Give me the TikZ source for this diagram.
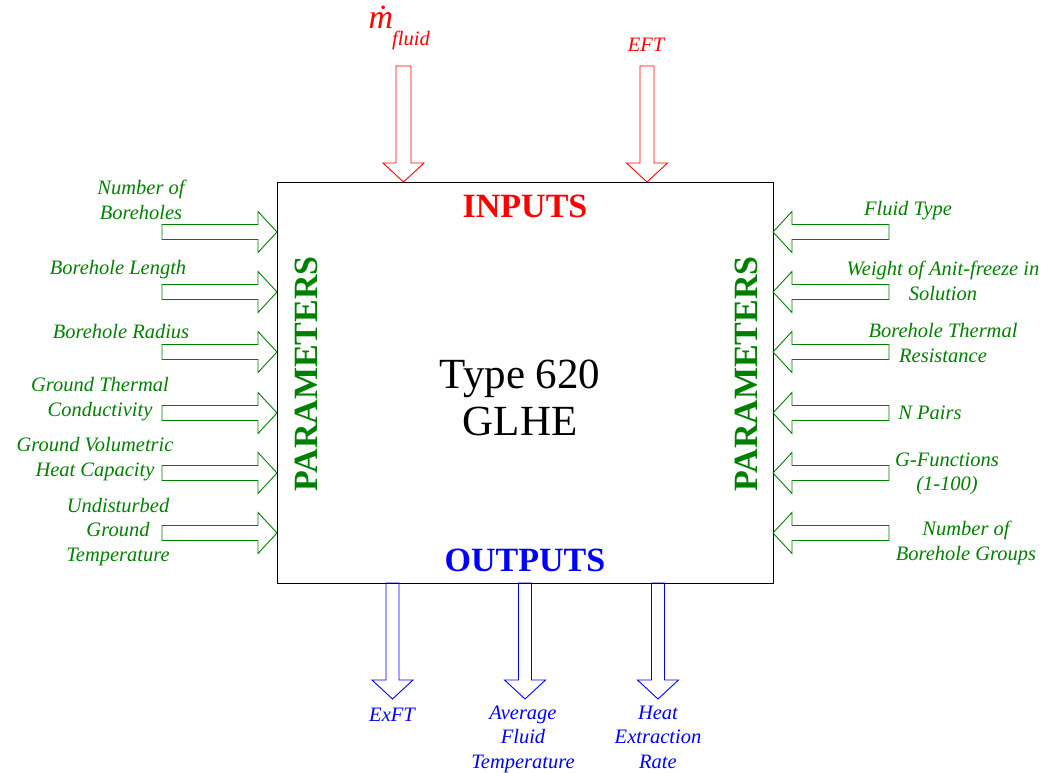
\documentclass[tikz,border=0pt]{standalone}
\usepackage{fontspec}
\setmainfont{Liberation Serif}[ItalicFont={Liberation Serif Italic},BoldFont={Liberation Serif Bold},BoldItalicFont={Liberation Serif Bold Italic}]
\definecolor{pgreen}{RGB}{0,128,0}
\definecolor{pred}{RGB}{255,0,0}
\definecolor{pblue}{RGB}{0,0,255}
\newcommand\rbarrow[4]{% tail x, neck x, tip x, y  (horizontal)
  \draw (#1,#4-7.5) -- (#2,#4-7.5) -- (#2,#4-20.5) -- (#3,#4) -- (#2,#4+20.5) -- (#2,#4+7.5) -- (#1,#4+7.5) -- cycle;}
\newcommand\vbarrow[5]{% tail y, neck y, tip y, x, shaft half
  \draw (#4-#5,#1) -- (#4-#5,#2) -- (#4-20.5,#2) -- (#4,#3) -- (#4+20.5,#2) -- (#4+#5,#2) -- (#4+#5,#1) -- cycle;}
\begin{document}
\begin{tikzpicture}[x=1pt,y=-1pt,
  lbl/.style={align=center,inner sep=0pt,font=\fontsize{20.5}{24.5}\selectfont\itshape},
  big/.style={inner sep=0pt,font=\fontsize{34}{38}\selectfont\bfseries},
  arr/.style={line width=0.9pt}]
\useasboundingbox (0,0) rectangle (1050,773);
% main box
\draw[line width=0.9pt] (277,182) rectangle (773,583);
\node[inner sep=0pt,align=center,font=\fontsize{43}{47}\selectfont] (title) at (520,398) {Type 620\\GLHE};
\node[big,text=pred] (inputs) at (525,206) {INPUTS};
\node[big,text=pblue] (outputs) at (525,560) {OUTPUTS};
\node[big,text=pgreen,rotate=90] (parL) at (306,374) {PARAMETERS};
\node[big,text=pgreen,rotate=90] (parR) at (746,374) {PARAMETERS};
% top inputs
\begin{scope}[pred,arr]
\vbarrow{66}{163}{182}{403.5}{7.5}
\vbarrow{66}{163}{182}{647}{7}
\end{scope}
\node[inner sep=0pt,text=pred,font=\fontsize{34}{36}\selectfont\itshape] (mdot) at (381,17) {\.{m}};
\node[lbl,text=pred] (fluid) at (411,40) {fluid};
\node[lbl,text=pred] (eft) at (646,45) {EFT};
% parameters
\begin{scope}[pgreen,arr]
\foreach \y in {232,292,352,413,473,533} {\rbarrow{162}{258}{277}{\y}}
\foreach \y in {232,292,352,413,473,533} {\rbarrow{889}{792}{773}{\y}}
\end{scope}
\begin{scope}[text=pgreen]
\node[lbl] (l1) at (141,200) {Number of\\Boreholes};
\node[lbl] (l2) at (118,270) {Borehole Length};
\node[lbl] (l3) at (121,332) {Borehole Radius};
\node[lbl] (l4) at (100,399) {Ground Thermal\\Conductivity};
\node[lbl] (l5) at (95,459) {Ground Volumetric\\Heat Capacity};
\node[lbl] (l6) at (118,532) {Undisturbed\\Ground\\Temperature};
\node[lbl] (r1) at (908,211) {Fluid Type};
\node[lbl] (r2) at (943,281) {Weight of Anit-freeze in\\Solution};
\node[lbl] (r3) at (943,343) {Borehole Thermal\\Resistance};
\node[lbl] (r4) at (930,413) {N Pairs};
\node[lbl] (r5) at (947,474) {G-Functions\\(1-100)};
\node[lbl] (r6) at (966,543) {Number of\\Borehole Groups};
\end{scope}
% outputs
\begin{scope}[pblue,arr]
\vbarrow{583}{680}{699}{392.5}{6.5}
\vbarrow{583}{680}{699}{525}{6.5}
\vbarrow{583}{680}{699}{658}{6.5}
\end{scope}
\begin{scope}[text=pblue]
\node[lbl] (o1) at (392,715) {ExFT};
\node[lbl] (o2) at (523,739) {Average\\Fluid\\Temperature};
\node[lbl] (o3) at (658,737) {Heat\\Extraction\\Rate};
\end{scope}
\end{tikzpicture}
\end{document}
